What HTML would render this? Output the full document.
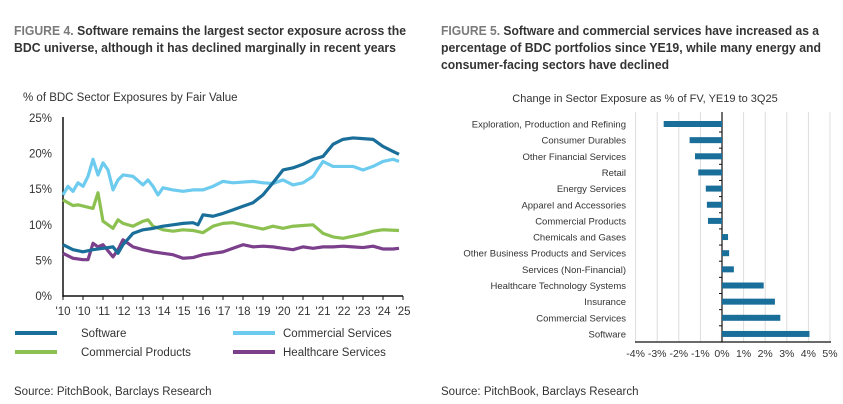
<!DOCTYPE html>
<html><head><meta charset="utf-8"><style>
html,body{margin:0;padding:0;background:#fff;}
svg{display:block;font-family:"Liberation Sans",sans-serif;}
</style></head><body>
<svg id="root" width="843" height="404" viewBox="0 0 843 404">
<g>
<text x="14" y="35" font-size="13" font-weight="bold" fill="#333" textLength="392" lengthAdjust="spacingAndGlyphs"><tspan fill="#7a7a7a">FIGURE 4.</tspan> Software remains the largest sector exposure across the</text>
<text x="14" y="52" font-size="13" font-weight="bold" fill="#333" textLength="382" lengthAdjust="spacingAndGlyphs">BDC universe, although it has declined marginally in recent years</text>
</g>
<g>
<text x="441" y="35" font-size="13" font-weight="bold" fill="#333" textLength="378" lengthAdjust="spacingAndGlyphs"><tspan fill="#7a7a7a">FIGURE 5.</tspan> Software and commercial services have increased as a</text>
<text x="441" y="52" font-size="13" font-weight="bold" fill="#333" textLength="380" lengthAdjust="spacingAndGlyphs">percentage of BDC portfolios since YE19, while many energy and</text>
<text x="441" y="69" font-size="13" font-weight="bold" fill="#333" textLength="228" lengthAdjust="spacingAndGlyphs">consumer-facing sectors have declined</text>
</g>
<text x="23" y="101" font-size="11.5" fill="#333">% of BDC Sector Exposures by Fair Value</text>
<text x="645" y="102" font-size="11" fill="#333" text-anchor="middle">Change in Sector Exposure as % of FV, YE19 to 3Q25</text>
<g id="left"></g>
<g id="right"></g>
<g>
<g><line x1="15" y1="333" x2="57" y2="333" stroke="#1a6e9a" stroke-width="4"/><text x="81" y="337" font-size="11.5" fill="#333">Software</text></g>
<g><line x1="233" y1="333" x2="275" y2="333" stroke="#6ccbee" stroke-width="4"/><text x="283" y="337" font-size="11.5" fill="#333">Commercial Services</text></g>
<g><line x1="15" y1="352" x2="57" y2="352" stroke="#8cc152" stroke-width="4"/><text x="81" y="356" font-size="11.5" fill="#333">Commercial Products</text></g>
<g><line x1="233" y1="352" x2="275" y2="352" stroke="#7b3f8c" stroke-width="4"/><text x="283" y="356" font-size="11.5" fill="#333">Healthcare Services</text></g>
</g>
<text x="14" y="395" font-size="11.5" fill="#333">Source: PitchBook, Barclays Research</text>
<text x="441" y="395" font-size="11.5" fill="#333">Source: PitchBook, Barclays Research</text>
</svg>
<script>
const NS="http://www.w3.org/2000/svg";
// ---- left chart data ----
const xLabels=["'10","'10","'11","'12","'13","'14","'15","'16","'17","'18","'19","'20","'21","'21","'22","'23","'24","'25"];
const yTicks=[0,5,10,15,20,25];
const swT=[0,0.5,1,1.5,2,2.5,2.75,3,3.5,4,4.5,5,5.5,6,6.5,6.75,7,7.5,8,8.5,9,9.5,10,10.5,11,11.5,12,12.5,13,13.5,14,14.5,15,15.5,16,16.5,16.8];
const swV=[7.2,6.5,6.2,6.5,6.7,6.9,6.0,7.2,8.8,9.3,9.5,9.8,10.0,10.2,10.3,10.0,11.4,11.2,11.6,12.1,12.6,13.1,14.2,15.9,17.7,18.0,18.5,19.2,19.6,21.3,22.0,22.2,22.1,22.0,21.0,20.3,19.9];
const csT=[0,0.25,0.5,0.75,1,1.25,1.5,1.75,2,2.25,2.5,2.75,3,3.5,4,4.25,4.5,4.75,5,5.5,6,6.5,7,7.5,8,8.5,9,9.5,10,10.5,11,11.5,12,12.5,13,13.5,14,14.5,15,15.5,16,16.5,16.8];
const csV=[14.2,15.4,14.7,15.9,15.4,16.8,19.2,17.0,18.7,17.7,14.9,16.3,17.0,16.8,15.6,16.3,15.4,14.2,15.2,14.9,14.7,14.9,14.9,15.4,16.1,15.9,16.0,16.1,15.9,15.8,16.3,15.6,15.9,16.8,18.9,18.2,18.2,18.2,17.7,18.2,18.9,19.2,18.9];
const cpT=[0,0.5,0.75,1.5,1.75,2,2.5,2.75,3,3.5,4,4.25,4.5,5,5.5,6,6.5,7,7.5,8,8.5,9,9.5,10,10.5,11,11.5,12,12.5,13,13.5,14,14.5,15,15.5,16,16.8];
const cpV=[13.5,12.7,12.8,12.3,14.5,10.5,9.5,10.7,10.2,9.8,10.5,10.7,9.8,9.3,9.1,9.3,9.2,8.9,9.8,10.2,10.3,10.0,9.7,9.4,9.8,9.5,9.8,9.9,10.0,8.8,8.3,8.1,8.4,8.7,9.1,9.3,9.2];
const hcT=[0,0.5,1,1.25,1.5,1.75,2,2.5,2.75,3,3.5,4,4.5,5,5.5,6,6.5,7,7.5,8,8.5,9,9.5,10,10.5,11,11.5,12,12.5,13,13.5,14,14.5,15,15.5,16,16.5,16.8];
const hcV=[6.0,5.3,5.1,5.1,7.4,6.9,7.2,5.5,6.5,7.9,6.9,6.5,6.2,6.0,5.8,5.3,5.4,5.8,6.0,6.2,6.7,7.2,6.9,7.0,6.9,6.7,6.5,6.9,6.7,6.9,6.9,7.0,6.9,6.8,7.0,6.6,6.6,6.7];
// ---- right chart data ----
const sectors=["Exploration, Production and Refining","Consumer Durables","Other Financial Services","Retail","Energy Services","Apparel and Accessories","Commercial Products","Chemicals and Gases","Other Business Products and Services","Services (Non-Financial)","Healthcare Technology Systems","Insurance","Commercial Services","Software"];
const changes=[-2.7,-1.5,-1.25,-1.1,-0.75,-0.7,-0.65,0.28,0.33,0.55,1.93,2.45,2.7,4.05];
const xTicksR=[-4,-3,-2,-1,0,1,2,3,4,5];

function mk(tag,attrs,parent){const e=document.createElementNS(NS,tag);for(const k in attrs)e.setAttribute(k,attrs[k]);parent.appendChild(e);return e;}
// left axes
const L=document.getElementById('left');
const lx=t=>63+t*20, ly=v=>296-v*7.12;
mk('line',{x1:63,y1:117,x2:63,y2:297,stroke:'#111','stroke-width':1.5},L);
mk('line',{x1:63,y1:296,x2:403,y2:296,stroke:'#111','stroke-width':1.5},L);
yTicks.forEach(v=>{const t=mk('text',{x:52,y:ly(v)+4,'font-size':11.5,fill:'#333','text-anchor':'end'},L);t.textContent=v+'%';

});
xLabels.forEach((s,i)=>{mk('line',{x1:lx(i),y1:296,x2:lx(i),y2:300,stroke:'#111'},L);
const t=mk('text',{x:lx(i),y:315,'font-size':11.5,fill:'#333','text-anchor':'middle'},L);t.textContent=s;

});
function series(T,V,color,name){const p=mk('polyline',{points:T.map((t,i)=>lx(t)+','+ly(V[i])).join(' '),fill:'none',stroke:color,'stroke-width':3.2,'stroke-linejoin':'round'},L);

}
series(hcT,hcV,'#7b3f8c','line-healthcare-services');
series(cpT,cpV,'#8cc152','line-commercial-products');
series(csT,csV,'#6ccbee','line-commercial-services');
series(swT,swV,'#1a6e9a','line-software');
// right chart
const R=document.getElementById('right');
const rx=v=>722+v*21.6, ry=i=>124+i*16.15;
xTicksR.forEach(v=>{if(v!==0)mk('line',{x1:rx(v),y1:112,x2:rx(v),y2:342,stroke:'#ddd','stroke-width':1},R);
const t=mk('text',{x:rx(v),y:357,'font-size':10.5,fill:'#333','text-anchor':'middle'},R);t.textContent=v+'%';

});
mk('line',{x1:635,y1:342,x2:831,y2:342,stroke:'#111','stroke-width':1.2},R);
mk('line',{x1:722,y1:112,x2:722,y2:342,stroke:'#111','stroke-width':1.2},R);
sectors.forEach((s,i)=>{const y=ry(i);
mk('line',{x1:719,y1:y+8,x2:722,y2:y+8,stroke:'#111'},R);
const v=changes[i];
const b=mk('rect',{x:Math.min(rx(0),rx(v)),y:y-3,width:Math.abs(rx(v)-rx(0)),height:6,fill:'#1a6e9a'},R);


const t=mk('text',{x:626,y:y+3.5,'font-size':9.5,fill:'#333','text-anchor':'end'},R);t.textContent=s;

});
</script>
</body></html>
